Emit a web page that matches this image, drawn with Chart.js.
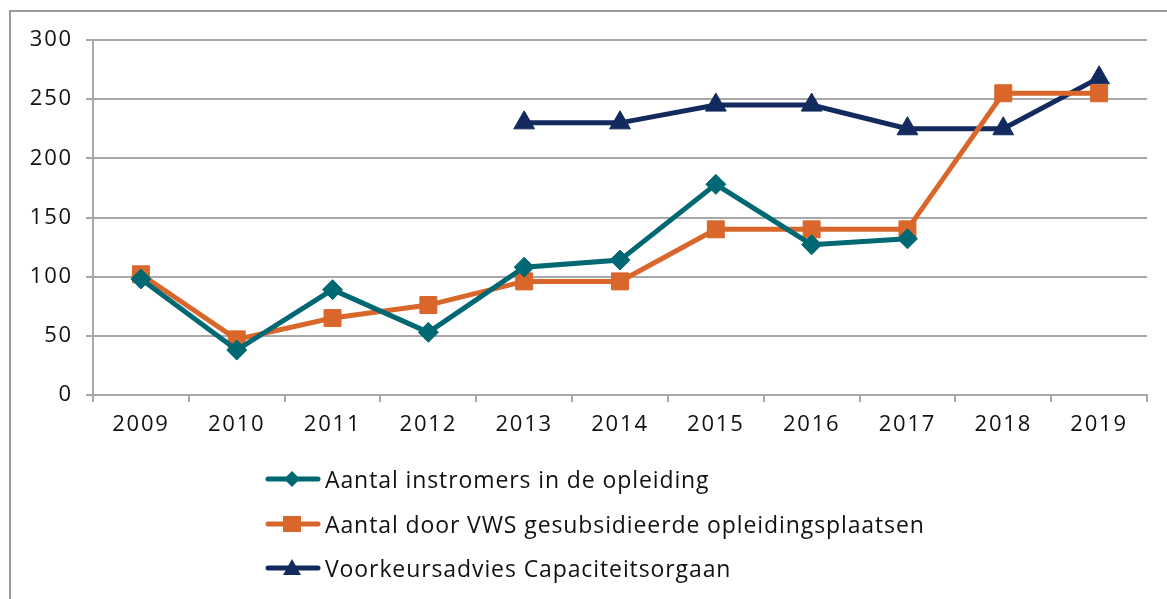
<!DOCTYPE html>
<html>
<head>
<meta charset="utf-8">
<script src="https://cdn.jsdelivr.net/npm/chart.js@4.4.1/dist/chart.umd.min.js"></script>
<style>
  html, body { margin: 0; padding: 0; background: #fff; }
  #wrap { position: relative; width: 1167px; height: 599px; overflow: hidden; background: #fff; }
  #frame { position: absolute; left: 9px; top: 10px; width: 1200px; height: 700px; border: 2px solid #9a9a9a; box-sizing: border-box; }
  canvas { position: absolute; left: 0; top: 0; }
  .leg { position: absolute; left: 264px; height: 30px; display: flex; align-items: center; font-family: "Open Sans", sans-serif; font-size: 23px; letter-spacing: 0.9px; color: #111; white-space: nowrap; }
  .leg svg { margin-right: 3px; }
</style>
</head>
<body>
<div id="wrap">
  <div id="frame"></div>
  <canvas id="c" width="1167" height="599"></canvas>
  <div id="legend"></div>
</div>
<script>
const years = ["2009","2010","2011","2012","2013","2014","2015","2016","2017","2018","2019"];
const instromers = [98, 38, 89, 53, 108, 114, 178, 127, 132, null, null];
const opleidingsplaatsen = [102, 47, 65, 76, 96, 96, 140, 140, 140, 255, 255];
const voorkeursadvies = [null, null, null, null, 230, 230, 245, 245, 225, 225, 268];
const seriesNames = ["Aantal instromers in de opleiding", "Aantal door VWS gesubsidieerde opleidingsplaatsen", "Voorkeursadvies Capaciteitsorgaan"];
const yTicks = { min: 0, max: 300, step: 50 };

const colors = ["#006872", "#D9662A", "#122A5E"];
const styles = ["rectRot", "rect", "triangle"];
const radii = [10, 12, 12];
const gridColor = "#A8A8A8";
const tickFont = { family: "Open Sans", size: 22 };

const dataSets = [instromers, opleidingsplaatsen, voorkeursadvies].map((d, i) => ({
  label: seriesNames[i],
  data: d,
  borderColor: colors[i],
  backgroundColor: colors[i],
  pointBackgroundColor: colors[i],
  pointBorderColor: colors[i],
  pointBorderWidth: 1,
  borderWidth: 5,
  pointStyle: styles[i],
  pointRadius: radii[i],
  tension: 0,
  spanGaps: false
}));

const spacingPlugin = {
  id: "spacing",
  beforeDraw(chart) { chart.ctx.letterSpacing = "1.8px"; },
  beforeDatasetsDraw(chart) { chart.ctx.letterSpacing = "0px"; }
};

new Chart(document.getElementById("c"), {
  type: "line",
  data: { labels: years, datasets: dataSets },
  plugins: [spacingPlugin],
  options: {
    responsive: false,
    animation: false,
    events: [],
    layout: { padding: { left: 0, right: 20, top: 40, bottom: 144 } },
    plugins: { legend: { display: false }, tooltip: { enabled: false } },
    scales: {
      x: {
        offset: true,
        grid: { offset: true, drawOnChartArea: false, drawTicks: true, tickLength: 7, color: gridColor, lineWidth: 2 },
        border: { color: gridColor, width: 2 },
        ticks: { font: tickFont, color: "#111", padding: 10, maxRotation: 0, autoSkip: false },
        afterFit: s => { s.height = 60; }
      },
      y: {
        min: yTicks.min, max: yTicks.max,
        grid: { color: gridColor, lineWidth: 2, tickLength: 7 },
        border: { color: gridColor, width: 2 },
        ticks: { stepSize: yTicks.step, font: tickFont, color: "#111", padding: 13 },
        afterFit: s => { s.width = 93; }
      }
    }
  }
});

// HTML legend (vertical list)
const rowsY = [464, 509, 553];
const legend = document.getElementById("legend");
function markerSvg(i) {
  const c = colors[i];
  let m = "";
  if (i === 0) m = `<polygon points="28,6 36,14 28,22 20,14" fill="${c}"/>`;
  if (i === 1) m = `<rect x="19" y="6" width="18" height="16" fill="${c}"/>`;
  if (i === 2) m = `<polygon points="28,5 37,21 19,21" fill="${c}"/>`;
  return `<svg width="58" height="28" viewBox="0 0 58 28"><line x1="4" y1="14" x2="54" y2="14" stroke="${c}" stroke-width="5" stroke-linecap="round"/>${m}</svg>`;
}
seriesNames.forEach((n, i) => {
  const d = document.createElement("div");
  d.className = "leg";
  d.style.top = rowsY[i] + "px";
  d.innerHTML = markerSvg(i) + "<span>" + n + "</span>";
  legend.appendChild(d);
});
</script>
</body>
</html>
